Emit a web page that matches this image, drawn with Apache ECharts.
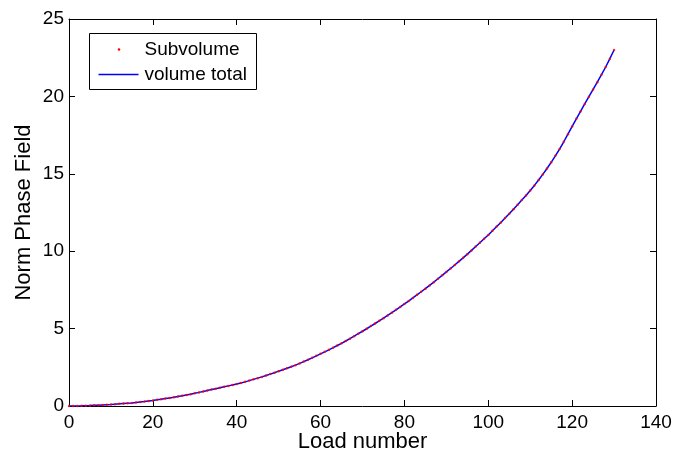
<!DOCTYPE html>
<html>
<head>
<meta charset="utf-8">
<script src="https://cdn.jsdelivr.net/npm/echarts@6/dist/echarts.min.js"></script>
<style>
    html, body { margin: 0; padding: 0; background: #fff; }
    #chart { width: 673px; height: 457px; }
</style>
</head>
<body>
<div id="chart"></div>
<script>
// 加载编号 0..130
const loadNumbers = [
    0, 1, 2, 3, 4, 5, 6, 7, 8, 9, 10,
    11, 12, 13, 14, 15, 16, 17, 18, 19, 20,
    21, 22, 23, 24, 25, 26, 27, 28, 29, 30,
    31, 32, 33, 34, 35, 36, 37, 38, 39, 40,
    41, 42, 43, 44, 45, 46, 47, 48, 49, 50,
    51, 52, 53, 54, 55, 56, 57, 58, 59, 60,
    61, 62, 63, 64, 65, 66, 67, 68, 69, 70,
    71, 72, 73, 74, 75, 76, 77, 78, 79, 80,
    81, 82, 83, 84, 85, 86, 87, 88, 89, 90,
    91, 92, 93, 94, 95, 96, 97, 98, 99, 100,
    101, 102, 103, 104, 105, 106, 107, 108, 109, 110,
    111, 112, 113, 114, 115, 116, 117, 118, 119, 120,
    121, 122, 123, 124, 125, 126, 127, 128, 129, 130
];

// 总体积的相场范数
const volumeTotal = [
    0, 0.002, 0.006, 0.012, 0.02, 0.03, 0.042, 0.055, 0.07, 0.085, 0.1,
    0.12, 0.14, 0.16, 0.18, 0.2, 0.23, 0.26, 0.29, 0.33, 0.36,
    0.40, 0.44, 0.48, 0.52, 0.56, 0.61, 0.66, 0.71, 0.76, 0.82,
    0.88, 0.94, 1.00, 1.06, 1.12, 1.18, 1.24, 1.30, 1.36, 1.42,
    1.49, 1.56, 1.64, 1.72, 1.80, 1.88, 1.97, 2.06, 2.15, 2.25,
    2.34, 2.44, 2.54, 2.64, 2.75, 2.87, 2.99, 3.11, 3.24, 3.37,
    3.50, 3.63, 3.77, 3.91, 4.05, 4.20, 4.35, 4.51, 4.67, 4.83,
    4.99, 5.16, 5.33, 5.50, 5.67, 5.85, 6.03, 6.21, 6.40, 6.59,
    6.78, 6.98, 7.18, 7.38, 7.58, 7.79, 8.00, 8.22, 8.44, 8.66,
    8.88, 9.11, 9.34, 9.57, 9.81, 10.05, 10.30, 10.55, 10.80, 11.05,
    11.32, 11.59, 11.86, 12.14, 12.42, 12.71, 13.00, 13.30, 13.60, 13.92,
    14.25, 14.60, 14.96, 15.34, 15.74, 16.16, 16.60, 17.07, 17.56, 18.06,
    18.55, 19.03, 19.51, 19.98, 20.45, 20.92, 21.40, 21.90, 22.44, 23.00
];

// 子体积（与总体积重合）
const subvolume = volumeTotal.slice();

const xTicks = { min: 0, max: 140, interval: 20 };
const yTicks = { min: 0, max: 25, interval: 5 };

const chart = echarts.init(document.getElementById('chart'));

const labelFont = { fontFamily: 'Liberation Sans, Arial, sans-serif', fontSize: 19, color: '#000' };
const nameFont = { fontFamily: 'Liberation Sans, Arial, sans-serif', fontSize: 22, color: '#000' };

function frameAxis(pos, range, showLabels, extra) {
    return Object.assign({
        type: 'value',
        position: pos,
        min: range.min,
        max: range.max,
        interval: range.interval,
        axisLine: { show: true, onZero: false, lineStyle: { color: '#000', width: 1 } },
        axisTick: { show: true, inside: true, length: 6, lineStyle: { color: '#000', width: 1 } },
        axisLabel: Object.assign({ show: showLabels, margin: pos === 'bottom' ? 7 : 5 }, labelFont),
        splitLine: { show: false }
    }, extra || {});
}

const option = {
    backgroundColor: '#fff',
    animation: false,
    grid: { left: 69, right: 17, top: 19, bottom: 51, containLabel: false, outerBoundsMode: 'none' },
    xAxis: [
        frameAxis('bottom', xTicks, true, {
            name: 'Load number',
            nameLocation: 'middle',
            nameGap: 25,
            nameMoveOverlap: false,
            nameTextStyle: nameFont
        }),
        frameAxis('top', xTicks, false)
    ],
    yAxis: [
        frameAxis('left', yTicks, true, {
            name: 'Norm Phase Field',
            nameLocation: 'middle',
            nameGap: 34,
            nameMoveOverlap: false,
            nameTextStyle: nameFont
        }),
        frameAxis('right', yTicks, false)
    ],
    series: [
        {
            name: 'volume total',
            type: 'line',
            data: loadNumbers.map((x, i) => [x, volumeTotal[i]]),
            showSymbol: false,
            lineStyle: { color: '#0000ff', width: 1.5 },
            z: 2
        },
        {
            name: 'Subvolume',
            type: 'scatter',
            data: loadNumbers.map((x, i) => [x, subvolume[i]]),
            symbol: 'circle',
            symbolSize: 2.5,
            itemStyle: { color: '#ff0000' },
            z: 3
        }
    ],
    // 图例（MATLAB 风格方框）
    graphic: [
        {
            type: 'group',
            left: 89,
            top: 33,
            children: [
                { type: 'rect', shape: { x: 0, y: 0, width: 167, height: 56 },
                  style: { fill: '#fff', stroke: '#000', lineWidth: 1 } },
                { type: 'circle', shape: { cx: 29.5, cy: 16, r: 1.3 },
                  style: { fill: '#ff0000' } },
                { type: 'text', x: 55, y: 16,
                  style: { text: 'Subvolume', verticalAlign: 'middle', fill: '#000',
                      font: '19px "Liberation Sans", Arial, sans-serif' } },
                { type: 'line', shape: { x1: 9, y1: 41, x2: 49, y2: 41 },
                  style: { stroke: '#0000ff', lineWidth: 1.5 } },
                { type: 'text', x: 55, y: 41,
                  style: { text: 'volume total', verticalAlign: 'middle', fill: '#000',
                      font: '19px "Liberation Sans", Arial, sans-serif' } }
            ]
        }
    ]
};

chart.setOption(option);
</script>
</body>
</html>
